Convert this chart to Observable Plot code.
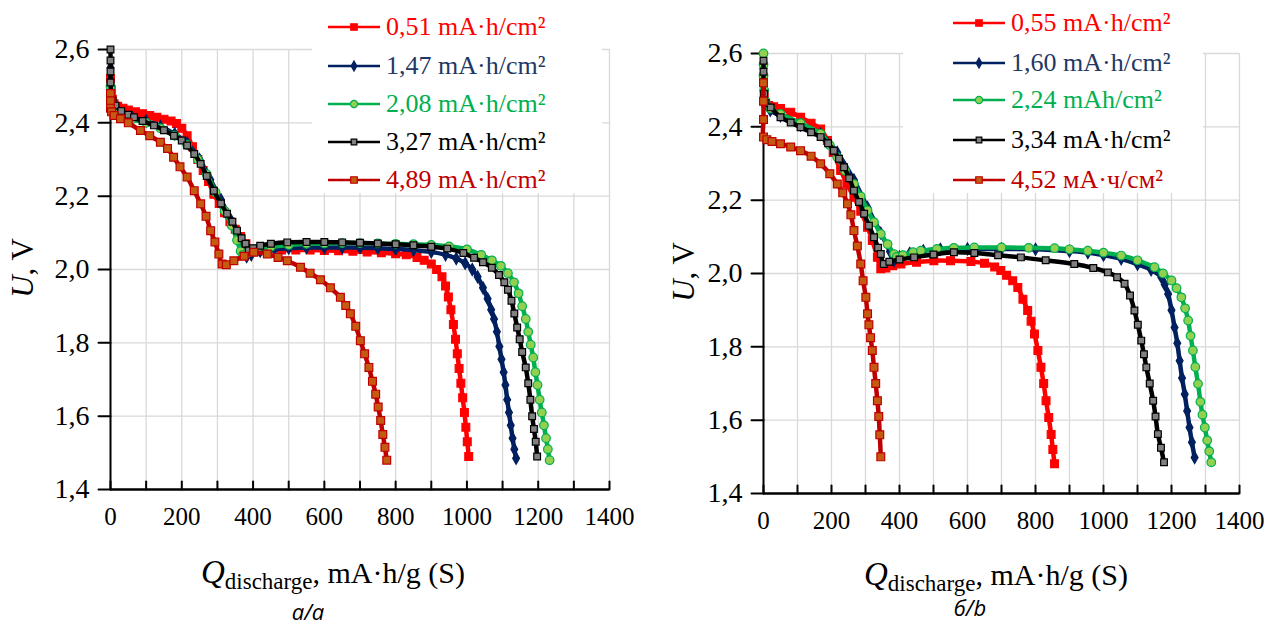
<!DOCTYPE html>
<html>
<head>
<meta charset="utf-8">
<script src="https://cdn.jsdelivr.net/npm/d3@7"></script>
<script src="https://cdn.jsdelivr.net/npm/@observablehq/plot@0.6"></script>
<style>
  body { margin: 0; background: #fff; }
  #root { position: relative; width: 1266px; height: 630px; overflow: hidden; background: #fff; font-family: "Liberation Serif", "Times New Roman", serif; }
  .panel { position: absolute; top: 0; }
  .legend { position: absolute; top: 0; background: #fff; height: 193px; }
  .row { position: absolute; left: 0; height: 30px; white-space: nowrap; font-size: 26px; line-height: 30px; font-family: "Liberation Serif", "Times New Roman", serif; }
  .row svg { position: absolute; top: 8px; }
  .row span { position: absolute; top: 0; }
</style>
</head>
<body>
<div id="root"></div>
<script>
// ---------- tick values ----------
const xLabelTicks = [0, 200, 400, 600, 800, 1000, 1200, 1400];
const xMinorTicks = [0, 100, 200, 300, 400, 500, 600, 700, 800, 900, 1000, 1100, 1200, 1300, 1400];
const yTicks = [1.4, 1.6, 1.8, 2.0, 2.2, 2.4, 2.6];

// ---------- panel a ----------
const legendA = ["0,51 mA·h/cm²", "1,47 mA·h/cm²", "2,08 mA·h/cm²", "3,27 mA·h/cm²", "4,89 mA·h/cm²"];
const a051 = [[0,2.52],[2,2.49],[5,2.465],[10,2.452],[20,2.445],[35,2.44],[50,2.435],[70,2.43],[90,2.425],[110,2.42],[130,2.415],[150,2.41],[170,2.405],[185,2.398],[200,2.385],[215,2.365],[230,2.335],[245,2.30],[260,2.27],[275,2.24],[290,2.205],[305,2.18],[320,2.155],[335,2.13],[350,2.11],[365,2.09],[380,2.07],[395,2.055],[410,2.05],[440,2.052],[480,2.053],[520,2.053],[560,2.053],[600,2.052],[640,2.051],[680,2.05],[720,2.048],[760,2.046],[800,2.043],[830,2.04],[860,2.033],[880,2.025],[900,2.015],[915,2.0],[930,1.98],[940,1.955],[948,1.925],[955,1.89],[962,1.85],[968,1.81],[973,1.77],[978,1.73],[983,1.69],[988,1.65],[993,1.61],[997,1.57],[1001,1.53],[1005,1.49]];
const a147 = [[0,2.55],[3,2.47],[10,2.44],[30,2.425],[60,2.415],[100,2.405],[140,2.39],[180,2.37],[215,2.345],[250,2.30],[280,2.245],[310,2.19],[335,2.14],[355,2.095],[370,2.06],[382,2.035],[395,2.04],[420,2.05],[460,2.056],[500,2.058],[550,2.06],[600,2.06],[650,2.06],[700,2.06],[750,2.058],[800,2.056],[850,2.053],[900,2.048],[940,2.04],[970,2.03],[995,2.017],[1015,2.0],[1030,1.98],[1045,1.95],[1058,1.92],[1068,1.89],[1076,1.865],[1084,1.83],[1091,1.79],[1097,1.755],[1103,1.72],[1108,1.685],[1113,1.645],[1118,1.61],[1123,1.575],[1128,1.54],[1133,1.51],[1138,1.485]];
const a208 = [[0,2.50],[3,2.46],[10,2.44],[30,2.425],[60,2.41],[100,2.40],[140,2.385],[180,2.365],[215,2.34],[245,2.30],[270,2.26],[295,2.21],[320,2.16],[340,2.12],[355,2.08],[365,2.05],[372,2.04],[385,2.045],[410,2.055],[450,2.062],[500,2.067],[550,2.07],[600,2.071],[650,2.072],[700,2.072],[750,2.071],[800,2.07],[850,2.069],[900,2.067],[950,2.063],[1000,2.055],[1040,2.04],[1070,2.025],[1095,2.01],[1115,1.99],[1132,1.965],[1145,1.935],[1155,1.90],[1165,1.865],[1172,1.83],[1179,1.795],[1186,1.76],[1192,1.72],[1198,1.685],[1204,1.645],[1210,1.61],[1216,1.575],[1222,1.54],[1227,1.51],[1232,1.48]];
const a327 = [[0,2.60],[0,2.57],[0,2.54],[0,2.51],[2,2.48],[6,2.46],[14,2.447],[30,2.432],[50,2.422],[66,2.415],[90,2.405],[122,2.393],[150,2.38],[178,2.365],[200,2.352],[215,2.338],[235,2.315],[253,2.288],[270,2.255],[290,2.215],[310,2.18],[327,2.152],[342,2.13],[355,2.106],[368,2.085],[379,2.07],[388,2.052],[400,2.058],[420,2.065],[450,2.07],[496,2.074],[550,2.075],[600,2.075],[650,2.074],[700,2.073],[750,2.071],[800,2.069],[850,2.066],[900,2.062],[945,2.057],[990,2.045],[1020,2.032],[1045,2.02],[1070,2.005],[1090,1.985],[1105,1.965],[1115,1.945],[1125,1.915],[1133,1.88],[1141,1.842],[1148,1.81],[1155,1.775],[1165,1.733],[1172,1.69],[1178,1.645],[1183,1.60],[1188,1.565],[1193,1.53],[1197,1.49]];
const a489 = [[0,2.48],[0,2.46],[0,2.44],[3,2.43],[10,2.42],[28,2.411],[50,2.40],[84,2.379],[110,2.365],[140,2.347],[160,2.33],[177,2.306],[195,2.28],[215,2.252],[235,2.215],[253,2.179],[268,2.145],[281,2.106],[293,2.075],[304,2.042],[313,2.015],[325,2.013],[346,2.024],[375,2.036],[402,2.047],[440,2.042],[470,2.033],[496,2.024],[533,2.006],[560,1.99],[589,1.972],[617,1.95],[645,1.924],[660,1.902],[673,1.879],[688,1.845],[701,1.806],[713,1.77],[725,1.733],[735,1.695],[744,1.66],[751,1.625],[758,1.588],[764,1.55],[770,1.515],[775,1.48]];

// ---------- panel b ----------
const legendB = ["0,55 mA·h/cm²", "1,60 mA·h/cm²", "2,24 mAh/cm²", "3,34 mA·h/cm²", "4,52 мА·ч/см²"];
const b055 = [[0,2.53],[2,2.49],[6,2.465],[15,2.458],[30,2.455],[50,2.45],[80,2.44],[109,2.426],[140,2.41],[168,2.394],[188,2.363],[205,2.33],[227,2.281],[245,2.245],[266,2.208],[286,2.17],[306,2.126],[320,2.09],[335,2.044],[345,2.013],[360,2.015],[380,2.021],[404,2.026],[450,2.031],[501,2.035],[550,2.035],[610,2.033],[650,2.028],[680,2.018],[698,2.008],[715,1.995],[733,1.98],[748,1.962],[763,1.93],[777,1.899],[787,1.87],[797,1.835],[807,1.79],[816,1.744],[824,1.70],[831,1.653],[839,1.607],[846,1.561],[851,1.52],[856,1.481]];
const b160 = [[0,2.56],[2,2.5],[6,2.465],[20,2.445],[50,2.43],[109,2.405],[168,2.38],[217,2.33],[266,2.255],[306,2.18],[345,2.11],[372,2.06],[384,2.035],[400,2.045],[430,2.055],[470,2.062],[520,2.066],[600,2.067],[700,2.067],[800,2.066],[900,2.061],[954,2.057],[1000,2.05],[1052,2.04],[1100,2.025],[1140,2.01],[1170,1.99],[1180,1.97],[1190,1.944],[1200,1.90],[1209,1.853],[1217,1.81],[1224,1.762],[1231,1.715],[1239,1.671],[1246,1.625],[1253,1.58],[1260,1.54],[1268,1.498]];
const b224 = [[0,2.60],[0,2.57],[0,2.54],[2,2.5],[6,2.47],[20,2.45],[50,2.435],[109,2.41],[168,2.381],[195,2.35],[217,2.317],[240,2.28],[266,2.244],[286,2.21],[306,2.172],[325,2.14],[345,2.108],[365,2.08],[384,2.053],[392,2.045],[410,2.05],[440,2.058],[463,2.062],[510,2.067],[560,2.07],[620,2.071],[700,2.071],[780,2.07],[856,2.069],[900,2.066],[954,2.062],[1000,2.057],[1052,2.049],[1100,2.036],[1150,2.017],[1175,2.0],[1200,1.981],[1215,1.96],[1229,1.935],[1240,1.905],[1249,1.872],[1256,1.83],[1263,1.79],[1270,1.745],[1278,1.699],[1285,1.65],[1291,1.615],[1298,1.58],[1305,1.545],[1311,1.515],[1317,1.485]];
const b334 = [[0,2.58],[0,2.55],[0,2.52],[2,2.49],[6,2.465],[21,2.453],[50,2.426],[80,2.412],[109,2.399],[140,2.385],[168,2.372],[190,2.355],[207,2.335],[222,2.313],[237,2.29],[252,2.26],[266,2.226],[281,2.195],[296,2.163],[310,2.13],[325,2.099],[337,2.07],[345,2.053],[354,2.026],[370,2.032],[400,2.038],[443,2.044],[500,2.052],[560,2.058],[620,2.056],[690,2.05],[757,2.044],[830,2.036],[914,2.026],[970,2.015],[1013,2.003],[1040,1.99],[1062,1.972],[1078,1.94],[1091,1.899],[1101,1.86],[1111,1.817],[1119,1.78],[1126,1.744],[1136,1.70],[1146,1.653],[1153,1.61],[1160,1.562],[1169,1.525],[1178,1.485]];
const b452 = [[0,2.52],[0,2.47],[0,2.42],[0,2.372],[10,2.365],[25,2.36],[50,2.354],[80,2.345],[109,2.335],[140,2.32],[168,2.299],[195,2.272],[217,2.244],[233,2.22],[247,2.19],[257,2.16],[266,2.117],[276,2.075],[286,2.026],[293,1.98],[301,1.935],[306,1.89],[310,1.86],[315,1.825],[320,1.79],[325,1.744],[330,1.70],[335,1.653],[339,1.61],[342,1.56],[345,1.50]];

// ---------- series styles ----------
const styles = [
  {line: "#ff0000", text: "#ff0000", symbol: "square", fill: "#ff0000", stroke: "#ff0000", r: 4.4},
  {line: "#002060", text: "#1f3864", symbol: "diamond", fill: "#002060", stroke: "#002060", r: 3.6},
  {line: "#00b050", text: "#00b050", symbol: "circle", fill: "#92d050", stroke: "#00b050", r: 4.3},
  {line: "#000000", text: "#000000", symbol: "square", fill: "#808080", stroke: "#000000", r: 3.8},
  {line: "#c00000", text: "#c00000", symbol: "square", fill: "#c55a11", stroke: "#c00000", r: 4.4}
];

const serif = "'Liberation Serif', 'Times New Roman', serif";
const fmtComma = d => d.toFixed(1).replace(".", ",");
const tickShape = {draw(context, l) { context.moveTo(0, 0); context.lineTo(0, -l); }};
const tickShapeMid = {draw(context, l) { context.moveTo(0, l / 2); context.lineTo(0, -l / 2); }};

function makePanel(seriesData, m) {
  const marks = [
    Plot.gridX(xMinorTicks, {stroke: "#d9d9d9", strokeOpacity: 1, strokeWidth: 1.3}),
    Plot.gridY(yTicks.slice(1), {stroke: "#d9d9d9", strokeOpacity: 1, strokeWidth: 1.3}),
    Plot.ruleY([1.4], {stroke: "#000", strokeWidth: 2.5}),
    Plot.ruleX([0], {stroke: "#000", strokeWidth: 2}),
    Plot.vector(xMinorTicks, {x: d => d, y: 1.4, length: 8, anchor: "start", shape: tickShape, stroke: "#000", strokeWidth: 2}),
    Plot.vector(yTicks, {x: 0, y: d => d, length: 12, rotate: 90, anchor: "middle", shape: tickShapeMid, stroke: "#000", strokeWidth: 2}),
    Plot.axisX(xLabelTicks, {tickSize: 0, tickPadding: 18, tickFormat: d => String(d), fontSize: 25, label: null}),
    Plot.axisY(yTicks, {tickSize: 0, tickPadding: 21, tickFormat: fmtComma, fontSize: 28, label: null})
  ];
  seriesData.forEach((data, i) => {
    const s = styles[i];
    marks.push(Plot.line(data, {x: d => d[0], y: d => d[1], stroke: s.line, strokeWidth: 4.5, curve: "catmull-rom"}));
    marks.push(Plot.dot(data, {x: d => d[0], y: d => d[1], symbol: s.symbol, r: s.r, fill: s.fill, stroke: s.stroke, strokeWidth: 1.2}));
  });
  return Plot.plot({
    width: 633, height: 630,
    marginLeft: m.left, marginRight: m.right, marginTop: m.top, marginBottom: m.bottom,
    x: {domain: [0, 1400]},
    y: {domain: [1.4, 2.6]},
    style: {fontFamily: serif, fontSize: "24px", color: "#000", background: "transparent", overflow: "visible"},
    marks
  });
}

function addTitles(svg, t) {
  const s = d3.select(svg);
  const xt = s.append("text").attr("x", t.xx).attr("y", t.xy).attr("text-anchor", "middle")
    .style("font-family", serif).attr("fill", "#000");
  xt.append("tspan").attr("font-style", "italic").attr("font-size", 33).text("Q");
  xt.append("tspan").attr("font-size", 23).attr("dy", 6).text("discharge");
  xt.append("tspan").attr("font-size", 30).attr("dy", -6).text(", mA·h/g (S)");
  const yt = s.append("text").attr("transform", `translate(${t.yx},${t.yy}) rotate(-90)`).attr("text-anchor", "middle")
    .style("font-family", serif).attr("font-size", 31).attr("fill", "#000");
  yt.append("tspan").attr("font-style", "italic").text("U");
  yt.append("tspan").text(", V");
  s.append("text").attr("x", t.cx).attr("y", t.cy).attr("text-anchor", "middle")
    .style("font-family", "'Open Sans', sans-serif").attr("font-style", "italic").attr("font-size", 22).attr("fill", "#000").text(t.caption);
}

function addLegend(root, labels, L) {
  const div = document.createElement("div");
  div.className = "legend";
  div.style.left = L.left + "px";
  div.style.width = L.width + "px";
  labels.forEach((lab, i) => {
    const s = styles[i];
    const row = document.createElement("div");
    row.className = "row";
    row.style.top = (L.rows[i] - 15) + "px";
    row.style.width = L.width + "px";
    const sym = d3.create("svg").attr("width", 56).attr("height", 14)
      .style("left", L.sym + "px");
    sym.append("line").attr("x1", 0).attr("x2", 52).attr("y1", 7).attr("y2", 7).attr("stroke", s.line).attr("stroke-width", 2.5);
    const typ = s.symbol === "square" ? d3.symbolSquare : s.symbol === "diamond" ? d3.symbolDiamond : d3.symbolCircle;
    sym.append("path").attr("transform", "translate(26,7)")
      .attr("d", d3.symbol(typ, Math.PI * s.r * s.r * 0.7)())
      .attr("fill", s.fill).attr("stroke", s.stroke).attr("stroke-width", 1.2);
    row.appendChild(sym.node());
    const span = document.createElement("span");
    span.style.left = L.text + "px";
    span.style.color = s.text;
    span.textContent = lab;
    row.appendChild(span);
    div.appendChild(row);
  });
  root.appendChild(div);
}

const root = document.getElementById("root");

const left = makePanel([a051, a147, a208, a327, a489], {left: 110, right: 24, top: 49, bottom: 141});
left.classList.add("panel");
left.style.left = "0px";
root.appendChild(left);
addTitles(left, {xx: 333, xy: 583, yx: 33, yy: 268, cx: 308, cy: 620, caption: "a/a"});

const right = makePanel([b055, b160, b224, b334, b452], {left: 130, right: 27, top: 53, bottom: 137});
right.classList.add("panel");
right.style.left = "633px";
root.appendChild(right);
addTitles(right, {xx: 363, xy: 585, yx: 61, yy: 272, cx: 337, cy: 616, caption: "б/b"});

addLegend(root, legendA, {left: 312, width: 290, rows: [27, 66, 104, 142, 180], sym: 16, text: 74});
addLegend(root, legendB, {left: 903, width: 300, rows: [23, 63, 100, 140, 180], sym: 50, text: 108});
</script>
</body>
</html>
